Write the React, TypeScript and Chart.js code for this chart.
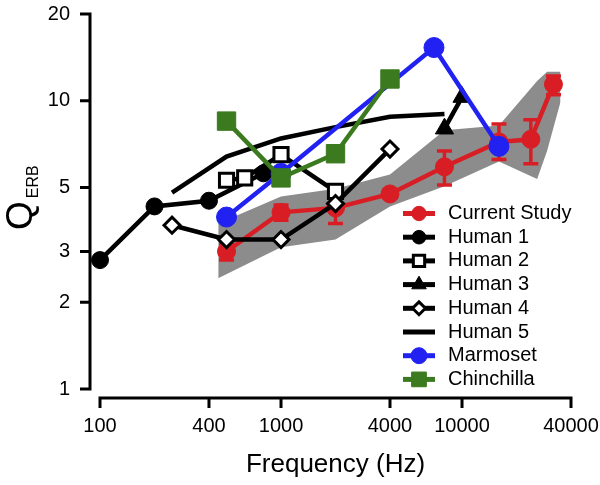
import React, { useEffect, useRef } from 'react';
import { Chart, registerables } from 'chart.js';

Chart.register(...registerables);

const FONT = '"Liberation Sans", Arial, Helvetica, sans-serif';

// Axis ticks
const xTicks = [100, 400, 1000, 4000, 10000, 40000];
const yTicks = [1, 2, 3, 5, 10, 20];

// Current Study (mean and error bars)
const currentFreq = [500, 1000, 2000, 4000, 8000, 16000, 24000, 32000];
const currentQ = [3.0, 4.1, 4.25, 4.75, 5.9, 7.2, 7.35, 11.4];
const currentLo = [2.8, 3.85, 3.75, 4.6, 5.1, 6.25, 6.05, 10.5];
const currentHi = [3.2, 4.35, 4.75, 4.9, 6.7, 8.3, 8.6, 12.2];

// Shaded range of Current Study
const bandFreq = [450, 1000, 2000, 4000, 8000, 16000, 26000, 29500, 35000];
const bandUpper = [3.75, 4.65, 4.95, 5.55, 7.9, 8.2, 11.7, 12.6, 12.6];
const bandLower = [2.42, 3.1, 3.3, 4.3, 5.05, 6.15, 5.35, 6.7, 9.9];

const human1Freq = [100, 200, 400, 800];
const human1Q = [2.8, 4.3, 4.5, 5.6];

const human2Freq = [500, 630, 1000, 2000];
const human2Q = [5.3, 5.4, 6.5, 4.85];

const human3Freq = [8000, 10000];
const human3Q = [8.0, 10.3];

const human4Freq = [250, 500, 1000, 2000, 4000];
const human4Q = [3.7, 3.3, 3.3, 4.4, 6.8];

const human5Freq = [250, 500, 1000, 2000, 4000, 8000];
const human5Q = [4.8, 6.4, 7.4, 8.1, 8.8, 9.0];

const marmosetFreq = [500, 1000, 7000, 16000];
const marmosetQ = [3.95, 5.6, 15.3, 6.95];

const chinchillaFreq = [500, 1000, 2000, 4000];
const chinchillaQ = [8.5, 5.4, 6.55, 11.9];

const RED = '#d81e24';
const BLUE = '#2121f2';
const GREEN = '#3b7a1e';
const GRAY = '#8c8c8c';
const BLACK = '#000000';

const pts = (xs: number[], ys: number[]) => xs.map((x, i) => ({ x, y: ys[i] }));

function drawMarker(
  ctx: CanvasRenderingContext2D,
  style: string,
  x: number,
  y: number,
  r: number,
  fill: string,
  stroke: string,
  bw: number
) {
  if (r <= 0) return;
  ctx.beginPath();
  if (style === 'circle') {
    ctx.arc(x, y, r, 0, Math.PI * 2);
  } else if (style === 'rect') {
    const s = r * Math.SQRT1_2;
    ctx.rect(x - s, y - s, 2 * s, 2 * s);
  } else if (style === 'rectRot') {
    ctx.moveTo(x, y - r);
    ctx.lineTo(x + r, y);
    ctx.lineTo(x, y + r);
    ctx.lineTo(x - r, y);
    ctx.closePath();
  } else if (style === 'triangle') {
    for (let k = 0; k < 3; k++) {
      const a = (k * 2 * Math.PI) / 3;
      const px = x + Math.sin(a) * r;
      const py = y - Math.cos(a) * r;
      if (k === 0) ctx.moveTo(px, py);
      else ctx.lineTo(px, py);
    }
    ctx.closePath();
  }
  ctx.fillStyle = fill;
  ctx.fill();
  if (bw > 0) {
    ctx.lineWidth = bw;
    ctx.strokeStyle = stroke;
    ctx.stroke();
  }
}

const errorBarPlugin = {
  id: 'errorBars',
  beforeDatasetDraw(chart: any, args: any) {
    if (args.index !== 0) return;
    const { ctx } = chart;
    const x = chart.scales.x;
    const y = chart.scales.y;
    ctx.save();
    ctx.strokeStyle = RED;
    ctx.lineWidth = 3.5;
    currentFreq.forEach((f, i) => {
      const px = x.getPixelForValue(f);
      const lo = y.getPixelForValue(currentLo[i]);
      const hi = y.getPixelForValue(currentHi[i]);
      ctx.beginPath();
      ctx.moveTo(px, lo);
      ctx.lineTo(px, hi);
      ctx.moveTo(px - 7.5, lo);
      ctx.lineTo(px + 7.5, lo);
      ctx.moveTo(px - 7.5, hi);
      ctx.lineTo(px + 7.5, hi);
      ctx.stroke();
    });
    ctx.restore();
  },
};

const axesPlugin = {
  id: 'prismAxes',
  beforeDatasetsDraw(chart: any) {
    const { ctx } = chart;
    const x = chart.scales.x;
    const y = chart.scales.y;
    ctx.save();
    ctx.strokeStyle = BLACK;
    ctx.lineWidth = 3;
    ctx.lineCap = 'butt';
    const ax = x.left - 10;
    const yTop = y.getPixelForValue(yTicks[yTicks.length - 1]);
    const yBot = y.getPixelForValue(yTicks[0]);
    ctx.beginPath();
    ctx.moveTo(ax, yTop - 1.5);
    ctx.lineTo(ax, yBot + 1.5);
    yTicks.forEach((v) => {
      const py = y.getPixelForValue(v);
      ctx.moveTo(ax - 10, py);
      ctx.lineTo(ax, py);
    });
    const ay = y.bottom + 9;
    const xl = x.getPixelForValue(xTicks[0]);
    const xr = x.getPixelForValue(xTicks[xTicks.length - 1]);
    ctx.moveTo(xl - 1.5, ay);
    ctx.lineTo(xr + 1.5, ay);
    xTicks.forEach((v) => {
      const px = x.getPixelForValue(v);
      ctx.moveTo(px, ay);
      ctx.lineTo(px, ay + 10);
    });
    ctx.stroke();
    ctx.restore();
  },
};

const yTitlePlugin = {
  id: 'yTitle',
  afterDraw(chart: any) {
    const { ctx } = chart;
    ctx.save();
    ctx.translate(32, 230);
    ctx.rotate(-Math.PI / 2);
    ctx.fillStyle = BLACK;
    ctx.textBaseline = 'alphabetic';
    ctx.textAlign = 'left';
    ctx.font = `37px ${FONT}`;
    ctx.fillText('Q', 0, 0);
    const w = ctx.measureText('Q').width;
    ctx.font = `16px ${FONT}`;
    ctx.fillText('ERB', w + 3, 6);
    ctx.restore();
  },
};

const legendPlugin = {
  id: 'customLegend',
  afterDraw(chart: any) {
    const { ctx } = chart;
    const n = 8;
    ctx.save();
    for (let i = 0; i < n; i++) {
      const ds = chart.data.datasets[i];
      const cy = 213.5 + i * 23.7;
      ctx.beginPath();
      ctx.strokeStyle = ds.borderColor;
      ctx.lineWidth = 5;
      ctx.moveTo(403, cy);
      ctx.lineTo(435, cy);
      ctx.stroke();
      drawMarker(
        ctx,
        ds.pointStyle,
        419,
        cy,
        (ds.pointRadius || 0) * 0.8,
        ds.pointBackgroundColor,
        ds.pointBorderColor,
        ds.pointBorderWidth
      );
      ctx.fillStyle = BLACK;
      ctx.font = `20px ${FONT}`;
      ctx.textBaseline = 'middle';
      ctx.textAlign = 'left';
      ctx.fillText(ds.label, 448, cy);
    }
    ctx.restore();
  },
};

export default function App() {
  const ref = useRef<HTMLCanvasElement>(null);

  useEffect(() => {
    if (!ref.current) return;
    const lineDs = (
      label: string,
      data: { x: number; y: number }[],
      color: string,
      style: string,
      radius: number,
      fill: string,
      bw: number,
      order: number
    ) => ({
      label,
      data,
      borderColor: color,
      backgroundColor: color,
      borderWidth: 4.5,
      pointStyle: style,
      pointRadius: radius,
      pointBackgroundColor: fill,
      pointBorderColor: color,
      pointBorderWidth: bw,
      fill: false,
      tension: 0,
      clip: false,
      order,
    });

    const chart = new Chart(ref.current, {
      type: 'line',
      data: {
        datasets: [
          lineDs('Current Study', pts(currentFreq, currentQ), RED, 'circle', 9, RED, 1, 8),
          lineDs('Human 1', pts(human1Freq, human1Q), BLACK, 'circle', 8.5, BLACK, 1, 6),
          lineDs('Human 2', pts(human2Freq, human2Q), BLACK, 'rect', 10, '#ffffff', 3, 5),
          lineDs('Human 3', pts(human3Freq, human3Q), BLACK, 'triangle', 10.5, BLACK, 1, 4),
          lineDs('Human 4', pts(human4Freq, human4Q), BLACK, 'rectRot', 8, '#ffffff', 3, 3),
          lineDs('Human 5', pts(human5Freq, human5Q), BLACK, 'circle', 0, BLACK, 0, 7),
          lineDs('Marmoset', pts(marmosetFreq, marmosetQ), BLUE, 'circle', 10, BLUE, 1, 2),
          lineDs('Chinchilla', pts(chinchillaFreq, chinchillaQ), GREEN, 'rect', 13, GREEN, 1, 1),
          {
            label: 'band upper',
            data: pts(bandFreq, bandUpper),
            borderWidth: 0,
            borderColor: 'rgba(0,0,0,0)',
            backgroundColor: GRAY,
            pointRadius: 0,
            fill: '+1',
            tension: 0,
            order: 20,
          },
          {
            label: 'band lower',
            data: pts(bandFreq, bandLower),
            borderWidth: 0,
            borderColor: 'rgba(0,0,0,0)',
            backgroundColor: GRAY,
            pointRadius: 0,
            fill: false,
            tension: 0,
            order: 21,
          },
        ] as any,
      },
      options: {
        responsive: false,
        animation: false,
        events: [],
        layout: { padding: { left: 0, right: 29, top: 12, bottom: 0 } },
        plugins: {
          legend: { display: false },
          tooltip: { enabled: false },
        },
        scales: {
          x: {
            type: 'logarithmic',
            min: 100,
            max: 40000,
            grid: {
              display: true,
              drawOnChartArea: false,
              drawTicks: true,
              tickLength: 25,
              color: 'rgba(0,0,0,0)',
            },
            border: { display: false },
            afterBuildTicks: (scale: any) => {
              scale.ticks = xTicks.map((v) => ({ value: v }));
            },
            afterFit: (scale: any) => {
              scale.height = 96;
            },
            ticks: {
              autoSkip: false,
              maxRotation: 0,
              padding: 0,
              color: BLACK,
              font: { size: 20, family: FONT },
              callback: (v: any) => String(v),
            },
            title: {
              display: true,
              text: 'Frequency (Hz)',
              color: BLACK,
              font: { size: 26, family: FONT },
              padding: { top: 0, bottom: 5 },
            },
          },
          y: {
            type: 'logarithmic',
            min: 1,
            max: 20,
            grid: {
              display: true,
              drawOnChartArea: false,
              drawTicks: true,
              tickLength: 30,
              color: 'rgba(0,0,0,0)',
            },
            border: { display: false },
            afterBuildTicks: (scale: any) => {
              scale.ticks = yTicks.map((v) => ({ value: v }));
            },
            afterFit: (scale: any) => {
              scale.width = 100;
            },
            ticks: {
              autoSkip: false,
              padding: 0,
              color: BLACK,
              font: { size: 20, family: FONT },
              callback: (v: any) => String(v),
            },
          },
        },
      } as any,
      plugins: [axesPlugin, errorBarPlugin, yTitlePlugin, legendPlugin],
    });
    return () => chart.destroy();
  }, []);

  return (
    <div
      style={{
        position: 'fixed',
        left: 0,
        top: 0,
        width: 600,
        height: 485,
        background: '#ffffff',
      }}
    >
      <canvas ref={ref} width={600} height={485} style={{ display: 'block' }} />
    </div>
  );
}
